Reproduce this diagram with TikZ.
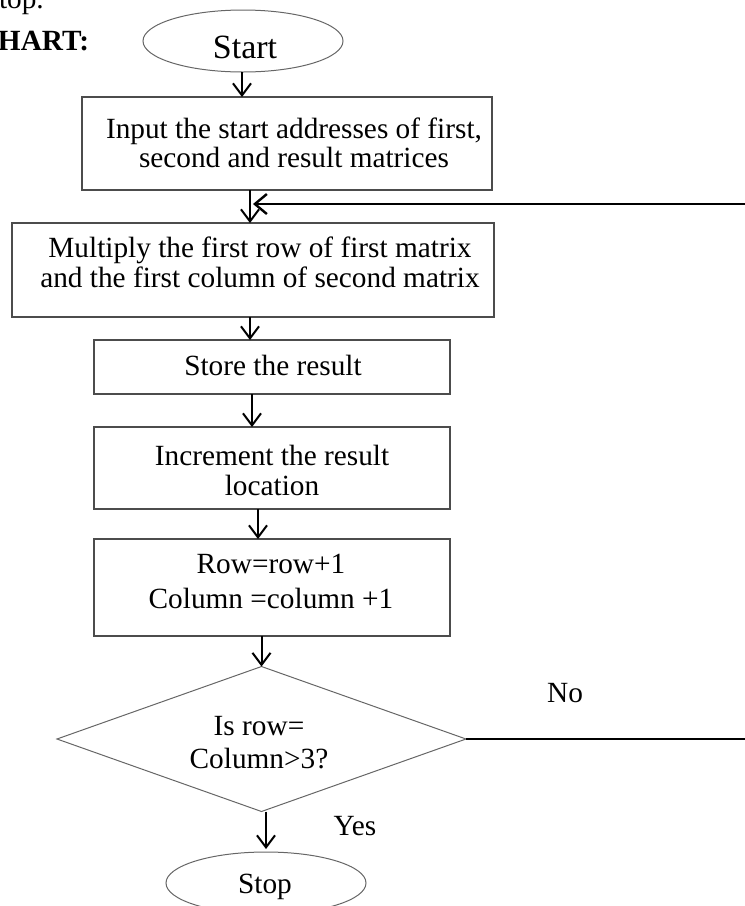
\documentclass[tikz,border=0pt]{standalone}
\usepackage{fontspec}
\setmainfont{Liberation Serif}
\usetikzlibrary{arrows.meta,shapes.geometric}
\begin{document}
\begin{tikzpicture}[x=1pt,y=-1pt,
  every node/.style={inner sep=0pt,outer sep=0pt},
  txt/.style={font=\fontsize{29.3}{#1}\selectfont,anchor=base,align=center},
  txt/.default={29.3},
  procbox/.style={rectangle,draw=black!70,line width=1.3pt},
  termbox/.style={ellipse,draw=black!60,line width=1pt,minimum width=200pt,minimum height=62pt},
  decbox/.style={diamond,draw=black!60,line width=1pt},
  arr/.style={draw=black,line width=2pt,-{Straight Barb[length=12pt,width=18pt]}},
  plain/.style={draw=black,line width=2pt}]
\useasboundingbox (0,0) rectangle (745,906);
\clip (0,0) rectangle (745,906);

% heading fragments
\node[txt,anchor=base west] (toptxt) at (-1,8) {top.};
\node[txt,anchor=base west,font=\fontsize{29.3}{29.3}\selectfont\bfseries] (hart) at (-2,50) {HART:};

% shapes
\node[termbox] (start) at (243,41) {};
\node[procbox,minimum width=410pt,minimum height=93pt] (b1) at (287,143.5) {};
\node[procbox,minimum width=482pt,minimum height=94pt] (b2) at (253,270) {};
\node[procbox,minimum width=356pt,minimum height=54pt] (b3) at (272,367) {};
\node[procbox,minimum width=356pt,minimum height=82pt] (b4) at (272,468) {};
\node[procbox,minimum width=356pt,minimum height=97pt] (b5) at (272,587.5) {};
\node[decbox,minimum width=409pt,minimum height=145pt] (dec) at (261.5,739) {};
\node[termbox] (stop) at (266,883) {};

% texts
\node[txt,font=\fontsize{34}{34}\selectfont] (starttxt) at (245,58) {Start};
\node[txt] (b1txt) at (294,138) {\begin{tabular}[t]{@{}c@{}}Input the start addresses of first,\\second and result matrices\end{tabular}};
\node[txt={30}] (b2txt) at (260,257) {\begin{tabular}[t]{@{}c@{}}Multiply the first row of first matrix\\and the first column of second matrix\end{tabular}};
\node[txt] (b3txt) at (273,375) {Store the result};
\node[txt={30}] (b4txt) at (272,465) {\begin{tabular}[t]{@{}c@{}}Increment the result\\location\end{tabular}};
\node[txt={35}] (b5txt) at (271,573) {\begin{tabular}[t]{@{}c@{}}Row=row+1\\Column =column +1\end{tabular}};
\node[txt={33}] (dectxt) at (259,735) {\begin{tabular}[t]{@{}c@{}}Is row=\\Column>3?\end{tabular}};
\node[txt] (notxt) at (565,702) {No};
\node[txt] (yestxt) at (355,835) {Yes};
\node[txt] (stoptxt) at (265,893) {Stop};

% loose ends of the loop-back line
\coordinate (loopin) at (745,204);
\coordinate (noend) at (745,739);

% connectors
\draw[arr] ([xshift=-1pt]start.south) -- ([xshift=-1pt]start.south |- b1.north);
\draw[arr] ([xshift=-3pt]b2.north |- b1.south) -- ([xshift=-3pt]b2.north);
\draw[draw=black,line width=2.4pt,-{Straight Barb[length=12pt,width=20pt]}] (loopin) -- (b2.north |- loopin);
\draw[arr] ([xshift=-3pt]b2.south) -- ([xshift=-3pt]b2.south |- b3.north);
\draw[arr] ([xshift=-20pt]b3.south) -- ([xshift=-20pt]b4.north);
\draw[arr] ([xshift=-14pt]b4.south) -- ([xshift=-14pt]b5.north);
\draw[arr] (dec.north |- b5.south) -- (dec.north);
\draw[arr,shorten >=3pt] (stop.north |- dec.south) -- (stop.north);
\draw[plain] (dec.east) -- (noend);
\end{tikzpicture}
\end{document}
